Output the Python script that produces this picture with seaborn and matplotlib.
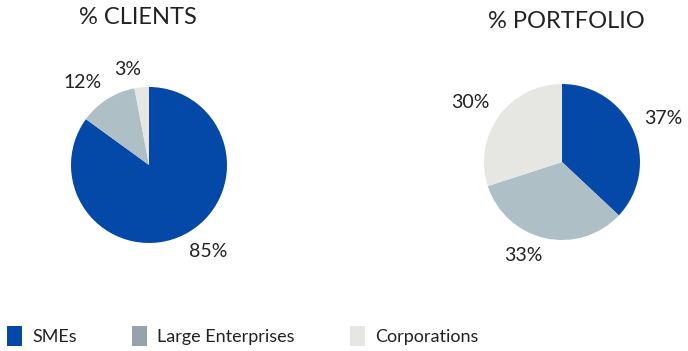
import matplotlib
matplotlib.use("Agg")
import matplotlib.pyplot as plt
import seaborn as sns
import numpy as np
from matplotlib.patches import Patch

sns.set_theme(style="white")
plt.rcParams['font.family'] = ['Lato', 'DejaVu Sans']

categories = ["SMEs", "Large Enterprises", "Corporations"]
clients = [85, 12, 3]
portfolio = [37, 33, 30]
titles = ["% CLIENTS", "% PORTFOLIO"]

wedge_colors = ["#0449A8", "#AEBFC6", "#E6E6E2"]
legend_colors = ["#0449A8", "#96A3AD", "#E6E6E2"]

W, H = 688, 351
fig = plt.figure(figsize=(W / 100, H / 100), dpi=100)

R = 78
centers = [(149, 165), (562, 162)]
title_pos = [(138, 18), (566, 21)]
for (cx, cy), vals, title, (tx, ty) in zip(centers, [clients, portfolio], titles, title_pos):
    ax = fig.add_axes([(cx - R) / W, (H - cy - R) / H, 2 * R / W, 2 * R / H])
    wedges, _ = ax.pie(vals, colors=wedge_colors, startangle=90, counterclock=False,
                       radius=1, wedgeprops=dict(linewidth=0))
    total = sum(vals)
    for w, v in zip(wedges, vals):
        ang = np.deg2rad((w.theta1 + w.theta2) / 2)
        lab = f"{v / total * 100:.0f}%"
        c, s = np.cos(ang), np.sin(ang)
        hw = 0.08 * len(lab)
        x = c * 1.15 + np.sign(c) * hw
        y = s * 1.12 + np.sign(s) * 0.11
        ax.text(x, y, lab, ha="center", va="center", fontsize=14, color="#222222", clip_on=False)
    ax.set_xlim(-1, 1)
    ax.set_ylim(-1, 1)
    ax.set_aspect("equal")
    ax.axis("off")
    fig.text(tx / W, 1 - ty / H, title, ha="center", va="center", fontsize=17, color="#222222")

handles = [Patch(facecolor=c, edgecolor="none") for c in legend_colors]
leg = fig.legend(handles, categories, loc="center left", bbox_to_anchor=(0.002, 1 - 336 / H),
                 ncol=3, frameon=False, fontsize=13, handlelength=0.85, handleheight=1.35,
                 handletextpad=0.55, columnspacing=3.05, borderaxespad=0, borderpad=0.3)
for t in leg.get_texts():
    t.set_color("#222222")

fig.savefig("out.png", dpi=100)
